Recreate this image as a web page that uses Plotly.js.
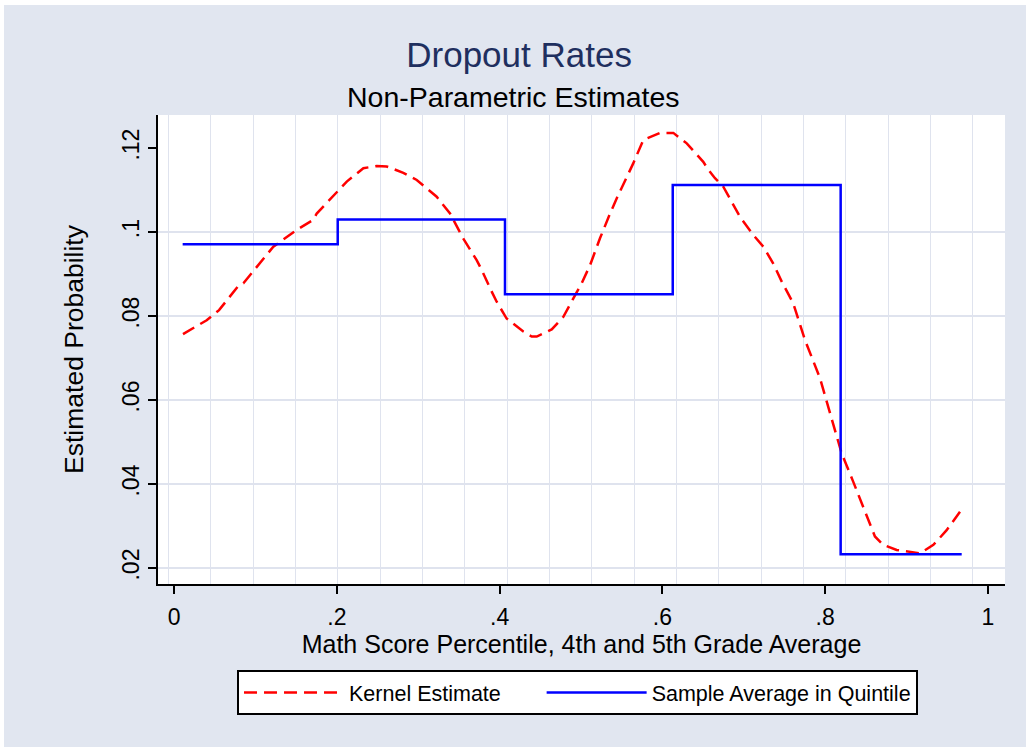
<!DOCTYPE html>
<html>
<head>
<meta charset="utf-8">
<script src="https://cdn.plot.ly/plotly-3.0.1.min.js"></script>
<style>
  html, body { margin: 0; padding: 0; background: #ffffff; }
  #chart { position: absolute; left: 4px; top: 5px; width: 1022px; height: 742px; }
</style>
</head>
<body>
<div id="chart"></div>
<script>
// Kernel estimate (red dashed)
const kernelX = [0.011, 0.0197, 0.0401, 0.0553, 0.0791, 0.0852, 0.1056, 0.122, 0.1507, 0.1712, 0.1753, 0.1999, 0.2122, 0.2326, 0.249, 0.2613, 0.2817, 0.2982, 0.3145, 0.3227, 0.3391, 0.3552, 0.3718, 0.3779, 0.3903, 0.3964, 0.4086, 0.4291, 0.4394, 0.4456, 0.464, 0.4783, 0.4906, 0.5008, 0.5111, 0.5233, 0.5357, 0.5438, 0.5643, 0.5765, 0.5971, 0.6134, 0.6299, 0.6502, 0.6565, 0.6646, 0.6748, 0.6953, 0.7116, 0.724, 0.7362, 0.7466, 0.7608, 0.7751, 0.7936, 0.808, 0.8202, 0.8345, 0.8611, 0.8714, 0.8878, 0.9164, 0.9329, 0.9492, 0.9656];
const kernelY = [0.0757, 0.0767, 0.0790, 0.0814, 0.0872, 0.0878, 0.0925, 0.0965, 0.1005, 0.1029, 0.1044, 0.1096, 0.112, 0.1152, 0.1157, 0.1156, 0.1141, 0.1124, 0.1096, 0.1084, 0.1044, 0.0985, 0.0933, 0.0910, 0.0858, 0.0834, 0.0794, 0.0763, 0.0751, 0.0751, 0.0768, 0.0798, 0.0842, 0.0878, 0.0921, 0.0985, 0.1044, 0.108, 0.1164, 0.1219, 0.1236, 0.1236, 0.1211, 0.1167, 0.1148, 0.1128, 0.1108, 0.1036, 0.0993, 0.0965, 0.0925, 0.0882, 0.0830, 0.0743, 0.0652, 0.0552, 0.0473, 0.0405, 0.0275, 0.0255, 0.0243, 0.0235, 0.0255, 0.0290, 0.0334];

// Sample average in quintile (blue step)
const quintileEdges = [0.0106, 0.2011, 0.4066, 0.6127, 0.8190, 0.9677];
const quintileMeans = [0.0971, 0.1030, 0.0852, 0.1112, 0.0233, 0.0233];

// Series names
const seriesNames = ['Kernel Estimate', 'Sample Average in Quintile'];

// Axis ticks
const xTickVals = [0, 0.2, 0.4, 0.6, 0.8, 1];
const xTickText = ['0', '.2', '.4', '.6', '.8', '1'];
const yTickVals = [0.02, 0.04, 0.06, 0.08, 0.10, 0.12];
const yTickText = ['.02', '.04', '.06', '.08', '.1', '.12'];
const yGridVals = [0.02, 0.04, 0.06, 0.08, 0.10];

const FONT = 'Liberation Sans, Arial, Helvetica, sans-serif';
const BG = '#e1e6f0';
const GRID = '#dfe3ee';
const PAD = '\u00a0\u00a0\u00a0\u00a0\u00a0\u00a0';

const traces = [
  {
    x: kernelX, y: kernelY, type: 'scatter', mode: 'lines',
    name: seriesNames[0] + PAD,
    line: { color: '#ff0000', width: 2.5, dash: '13px,7px' }
  },
  {
    x: quintileEdges, y: quintileMeans, type: 'scatter', mode: 'lines',
    name: seriesNames[1],
    line: { color: '#0000ff', width: 2.5, shape: 'hv' }
  }
];

const shapes = yGridVals.map(v => ({
  type: 'line', xref: 'paper', x0: 0, x1: 1, yref: 'y', y0: v, y1: v,
  line: { color: GRID, width: 2 }, layer: 'below'
}));

const layout = {
  width: 1022, height: 742,
  paper_bgcolor: BG, plot_bgcolor: '#ffffff',
  margin: { l: 154, r: 21, t: 110, b: 163, autoexpand: false },
  font: { family: FONT, color: '#000000' },
  title: {
    text: 'Dropout Rates',
    font: { family: FONT, size: 35, color: '#1f2f5f' },
    x: 0.504, xanchor: 'center', xref: 'container',
    y: 0.9326, yanchor: 'middle', yref: 'container'
  },
  annotations: [{
    text: 'Non-Parametric Estimates',
    xref: 'paper', yref: 'paper', x: 0.4200, y: 1.0384,
    xanchor: 'center', yanchor: 'middle', showarrow: false,
    font: { family: FONT, size: 28.5, color: '#000000' }
  }],
  xaxis: {
    range: [-0.0197, 1.0209],
    tickmode: 'array', tickvals: xTickVals, ticktext: xTickText,
    ticks: 'outside', ticklen: 8, tickwidth: 2, tickcolor: '#000',
    ticklabelstandoff: 3,
    tickfont: { family: FONT, size: 23 },
    showline: true, linecolor: '#000', linewidth: 2,
    showgrid: false, zeroline: false,
    minor: { tick0: -0.0070, dtick: 0.05201, showgrid: true, gridcolor: GRID, gridwidth: 1, ticks: '' },
    title: { text: 'Math Score Percentile, 4th and 5th Grade Average', font: { family: FONT, size: 25 }, standoff: 3 },
    automargin: false
  },
  yaxis: {
    range: [0.01619, 0.12786],
    tickmode: 'array', tickvals: yTickVals, ticktext: yTickText,
    ticks: 'outside', ticklen: 8, tickwidth: 2, tickcolor: '#000',
    tickangle: -90,
    tickfont: { family: FONT, size: 23 },
    showline: true, linecolor: '#000', linewidth: 2,
    showgrid: false, zeroline: false,
    title: { text: 'Estimated Probability', font: { family: FONT, size: 26.5 }, standoff: 27 },
    automargin: false
  },
  shapes: shapes,
  showlegend: true,
  legend: {
    orientation: 'h',
    x: 0.0933, xanchor: 'left', xref: 'paper',
    y: -0.1834, yanchor: 'top', yref: 'paper',
    bgcolor: '#ffffff', bordercolor: '#000000', borderwidth: 2,
    font: { family: FONT, size: 21.5, color: '#000' },
    itemwidth: 100,
    traceorder: 'normal'
  }
};

Plotly.newPlot('chart', traces, layout, { displayModeBar: false, staticPlot: true });
</script>
</body>
</html>
